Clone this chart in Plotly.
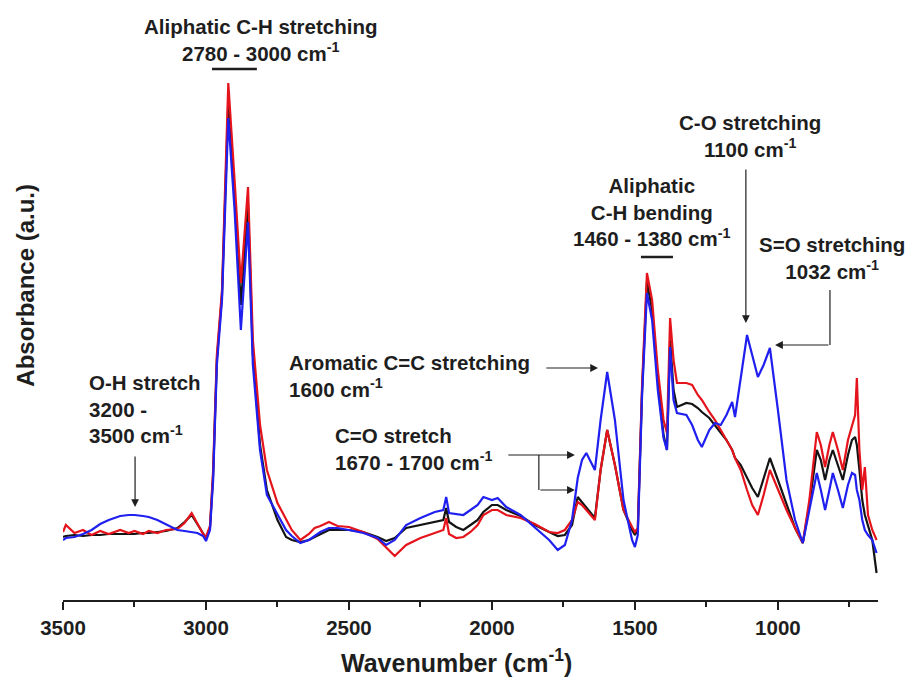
import plotly.graph_objects as go

# Wavenumber grid (cm-1) shared by the three spectra
wavenumber = [3500, 3490, 3460, 3430, 3400, 3370, 3340, 3300, 3270, 3250, 3220, 3200, 3170, 3140,
              3100, 3075, 3050, 3030, 3010, 3000, 2986, 2975, 2962, 2944, 2922, 2900, 2878, 2853,
              2836, 2811, 2787, 2750, 2720, 2700, 2670, 2640, 2620, 2600, 2570, 2540, 2500, 2450,
              2400, 2370, 2340, 2300, 2250, 2200, 2170, 2160, 2150, 2125, 2100, 2075, 2050, 2030,
              2000, 1980, 1950, 1900, 1850, 1800, 1770, 1745, 1720, 1700, 1685, 1670, 1640, 1620,
              1597, 1570, 1540, 1510, 1500, 1490, 1475, 1458, 1440, 1420, 1400, 1388, 1377, 1365,
              1353, 1320, 1300, 1280, 1266, 1240, 1220, 1200, 1180, 1160, 1150, 1130, 1108, 1090,
              1070, 1050, 1028, 1000, 970, 940, 913, 890, 864, 850, 835, 820, 808, 790, 773, 755,
              741, 730, 724, 715, 705, 696, 685, 670, 655]

absorbance_black = [0.63, 0.64, 0.65, 0.64, 0.65, 0.65, 0.66, 0.66, 0.66, 0.66, 0.67, 0.67, 0.68, 0.69,
                    0.72, 0.78, 0.85, 0.76, 0.66, 0.62, 0.72, 1.25, 2.40, 3.05, 5.00, 4.05, 2.95, 3.95,
                    2.45, 1.55, 1.10, 0.80, 0.63, 0.60, 0.58, 0.60, 0.63, 0.66, 0.70, 0.70, 0.70, 0.68,
                    0.63, 0.59, 0.62, 0.72, 0.75, 0.78, 0.80, 0.92, 0.78, 0.73, 0.70, 0.75, 0.80, 0.88,
                    0.95, 0.95, 0.90, 0.84, 0.75, 0.68, 0.64, 0.65, 0.75, 1.03, 0.98, 0.93, 0.82, 1.30,
                    1.70, 1.35, 0.90, 0.70, 0.65, 0.70, 2.10, 3.18, 2.90, 2.20, 1.65, 1.50, 2.60, 2.10,
                    1.93, 1.97, 1.96, 1.92, 1.88, 1.82, 1.75, 1.68, 1.60, 1.50, 1.42, 1.35, 1.23, 1.12,
                    1.03, 1.22, 1.42, 1.20, 0.95, 0.72, 0.57, 0.95, 1.50, 1.40, 1.20, 1.40, 1.50, 1.35,
                    1.20, 1.45, 1.60, 1.63, 1.55, 1.30, 1.00, 0.85, 0.75, 0.60, 0.27]

absorbance_red = [0.68, 0.75, 0.67, 0.70, 0.65, 0.69, 0.66, 0.70, 0.67, 0.69, 0.66, 0.69, 0.67, 0.70,
                  0.71, 0.77, 0.87, 0.77, 0.66, 0.63, 0.74, 1.30, 2.45, 3.10, 5.17, 4.20, 3.17, 4.13,
                  2.60, 1.75, 1.30, 0.97, 0.80, 0.70, 0.60, 0.66, 0.72, 0.74, 0.78, 0.74, 0.73, 0.68,
                  0.61, 0.52, 0.44, 0.55, 0.62, 0.67, 0.70, 0.82, 0.66, 0.62, 0.63, 0.68, 0.75, 0.85,
                  0.90, 0.90, 0.85, 0.82, 0.76, 0.68, 0.67, 0.70, 0.80, 0.98, 0.95, 0.90, 0.80, 1.30,
                  1.70, 1.35, 0.90, 0.73, 0.68, 0.72, 2.15, 3.27, 3.00, 2.30, 1.80, 1.67, 2.82, 2.40,
                  2.17, 2.17, 2.15, 2.05, 2.00, 1.88, 1.80, 1.70, 1.60, 1.50, 1.42, 1.30, 1.10, 0.95,
                  0.85, 1.05, 1.30, 1.10, 0.90, 0.72, 0.57, 1.00, 1.68, 1.55, 1.33, 1.55, 1.68, 1.50,
                  1.30, 1.60, 1.73, 1.85, 2.22, 1.50, 1.10, 1.33, 0.85, 0.70, 0.60]

absorbance_blue = [0.60, 0.62, 0.63, 0.66, 0.70, 0.76, 0.80, 0.84, 0.85, 0.85, 0.84, 0.83, 0.80, 0.76,
                   0.70, 0.69, 0.68, 0.67, 0.64, 0.59, 0.70, 1.20, 2.35, 3.00, 4.82, 3.90, 2.70, 3.78,
                   2.35, 1.50, 1.05, 0.85, 0.70, 0.64, 0.57, 0.60, 0.64, 0.68, 0.72, 0.72, 0.70, 0.67,
                   0.62, 0.55, 0.60, 0.75, 0.82, 0.88, 0.90, 1.03, 0.87, 0.86, 0.85, 0.90, 0.95, 1.03,
                   1.00, 1.02, 0.93, 0.85, 0.72, 0.60, 0.50, 0.55, 0.80, 1.22, 1.40, 1.47, 1.30, 1.80,
                   2.28, 1.80, 1.00, 0.60, 0.53, 0.65, 2.05, 3.07, 2.80, 2.10, 1.62, 1.50, 2.53, 2.00,
                   1.87, 1.85, 1.75, 1.60, 1.53, 1.70, 1.77, 1.75, 1.85, 1.98, 1.83, 2.20, 2.65, 2.45,
                   2.23, 2.35, 2.52, 1.90, 1.20, 0.80, 0.57, 0.90, 1.27, 1.10, 0.90, 1.10, 1.27, 1.10,
                   0.92, 1.15, 1.27, 1.25, 1.10, 1.00, 0.80, 0.70, 0.65, 0.60, 0.47]

x_ticks = [3500, 3000, 2500, 2000, 1500, 1000]
x_tick_labels = ["3500", "3000", "2500", "2000", "1500", "1000"]

FONT = "Arial, Liberation Sans, sans-serif"
TXT = "#1e1e1e"

fig = go.Figure()
fig.add_trace(go.Scatter(x=wavenumber, y=absorbance_black, mode="lines",
                         line=dict(color="#141414", width=2.2), showlegend=False))
fig.add_trace(go.Scatter(x=wavenumber, y=absorbance_red, mode="lines",
                         line=dict(color="#e5141c", width=2.2), showlegend=False))
fig.add_trace(go.Scatter(x=wavenumber, y=absorbance_blue, mode="lines",
                         line=dict(color="#1f1ff0", width=2.2), showlegend=False))

def label(text, x, y, align="center", xanchor="center"):
    return dict(text=text, x=x, y=y, xref="x", yref="y", showarrow=False,
                align=align, xanchor=xanchor, yanchor="middle",
                font=dict(family=FONT, size=20.5, color=TXT, weight="bold"))

def arrow(x, y, ax, ay):
    return dict(text="", x=x, y=y, ax=ax, ay=ay, xref="x", yref="y", axref="x", ayref="y",
                showarrow=True, arrowhead=2, arrowsize=1.3, arrowwidth=1.2, arrowcolor=TXT)

annotations = [
    label("Aliphatic C-H stretching<br>2780 - 3000 cm<sup>-1</sup>", 2808, 5.60),
    label("O-H stretch<br>3200 -<br>3500 cm<sup>-1</sup>", 3416, 1.91, align="left", xanchor="left"),
    label("Aromatic C=C stretching<br>1600 cm<sup>-1</sup>", 2717, 2.24, align="left", xanchor="left"),
    label("C=O stretch<br>1670 - 1700 cm<sup>-1</sup>", 2556, 1.51, align="left", xanchor="left"),
    label("Aliphatic<br>C-H bending<br>1460 - 1380 cm<sup>-1</sup>", 1441, 3.88),
    label("C-O stretching<br>1100 cm<sup>-1</sup>", 1098, 4.64),
    label("S=O stretching<br>1032 cm<sup>-1</sup>", 812, 3.42),
    arrow(3248, 0.93, 3248, 1.45),
    arrow(1629, 2.32, 1815, 2.32),
    arrow(1710, 1.45, 1948, 1.45),
    arrow(1710, 1.10, 1836, 1.10),
    arrow(1112, 2.77, 1112, 4.32),
    arrow(1010, 2.55, 818, 2.55),
    dict(text="Absorbance (a.u.)", x=-0.047, y=3.15, xref="paper", yref="y", showarrow=False,
         textangle=-90, xanchor="center", yanchor="middle",
         font=dict(family=FONT, size=24, color=TXT, weight="bold")),
    dict(text="Wavenumber (cm<sup>-1</sup>)", x=0.483, y=-0.101, xref="paper", yref="paper",
         showarrow=False, xanchor="center", yanchor="middle",
         font=dict(family=FONT, size=25, color=TXT, weight="bold")),
]

shapes = [
    dict(type="line", xref="x", yref="y", x0=2979, x1=2822, y0=5.31, y1=5.31,
         line=dict(color=TXT, width=2.5)),
    dict(type="line", xref="x", yref="y", x0=1479, x1=1367, y0=3.43, y1=3.43,
         line=dict(color=TXT, width=2.5)),
    dict(type="line", xref="x", yref="y", x0=1836, x1=1836, y0=1.45, y1=1.10,
         line=dict(color=TXT, width=1.2)),
    dict(type="line", xref="x", yref="y", x0=818, x1=818, y0=3.10, y1=2.55,
         line=dict(color=TXT, width=1.2)),
]

fig.update_layout(
    width=909, height=679,
    margin=dict(l=63, r=31, t=0, b=79),
    paper_bgcolor="white", plot_bgcolor="white",
    annotations=annotations, shapes=shapes,
    showlegend=False,
    xaxis=dict(range=[3500, 650], showgrid=False, zeroline=False, automargin=False,
               showline=True, linecolor="#1e1e1e", linewidth=2,
               ticks="outside", ticklen=8, tickwidth=2, tickcolor="#1e1e1e",
               tickvals=x_ticks, ticktext=x_tick_labels,
               tickfont=dict(family=FONT, size=20.5, color=TXT, weight="bold"),
               minor=dict(dtick=250, tick0=0, ticks="outside", ticklen=5, tickwidth=1.5,
                          tickcolor="#1e1e1e", showgrid=False)),
    yaxis=dict(range=[0, 6.0], visible=False, automargin=False),
)

fig.write_html("out.html", config={"displayModeBar": False},
               post_script="document.body.style.margin='0';document.body.style.overflow='hidden';")
